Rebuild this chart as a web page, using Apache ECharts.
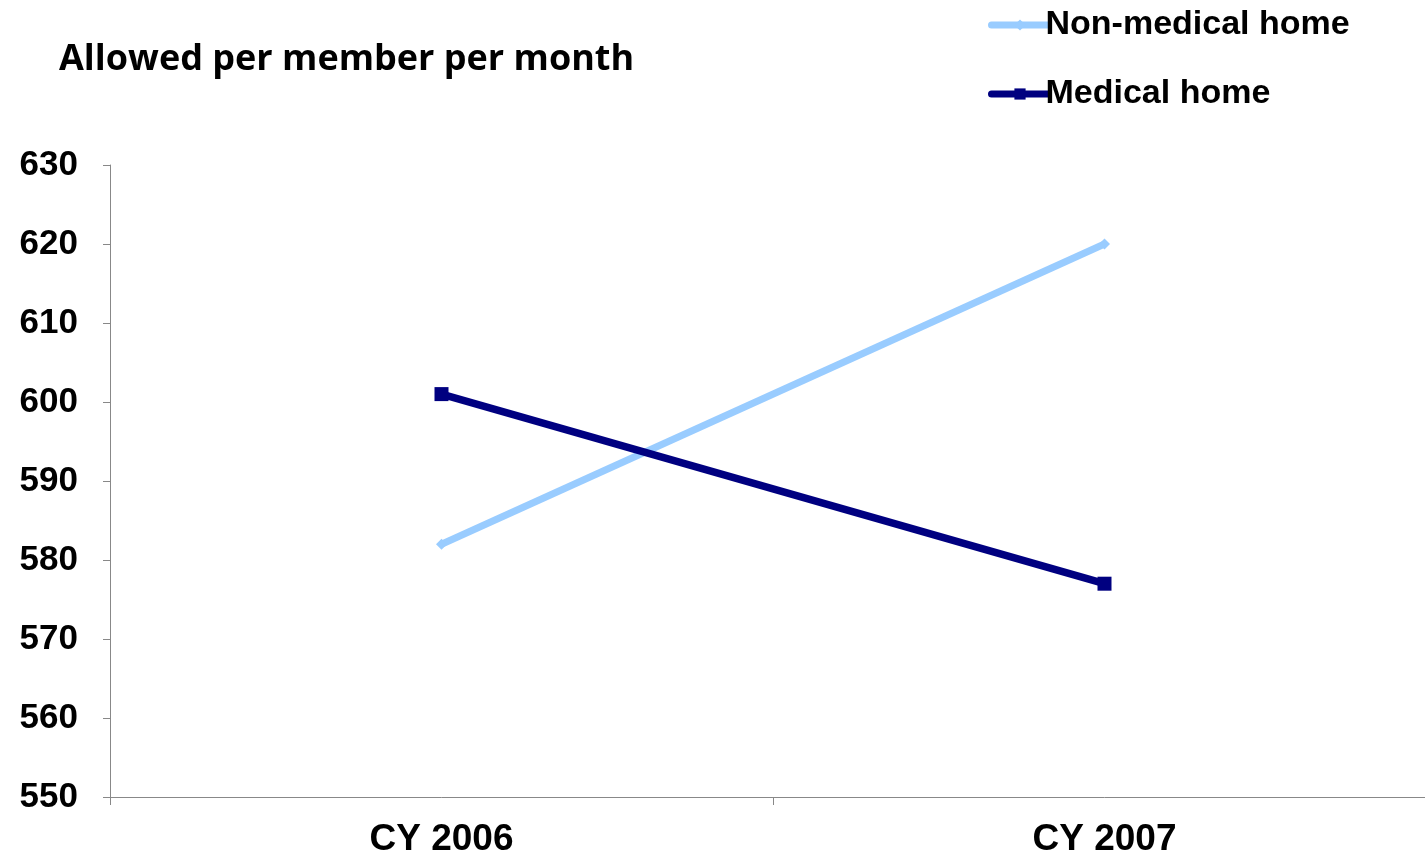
<!DOCTYPE html>
<html>
<head>
<meta charset="utf-8">
<script src="https://cdn.jsdelivr.net/npm/echarts@6/dist/echarts.min.js"></script>
<style>html,body{margin:0;padding:0;background:#fff;overflow:hidden;width:1425px;height:856px;}#c{width:1440px;height:856px;}</style>
</head>
<body>
<div id="c"></div>
<script>
var categories = ['CY 2006', 'CY 2007'];
var nonMedicalHome = [582, 620];
var medicalHome = [601, 577];
var seriesNames = ['Non-medical home', 'Medical home'];
var titleText = 'Allowed per member per month';

var chart = echarts.init(document.getElementById('c'));
chart.setOption({
  backgroundColor: '#fff',
  animation: false,
  title: {
    text: titleText,
    left: 54, top: 37,
    textStyle: { fontFamily: 'Open Sans', fontWeight: 'bold', fontSize: 36, color: '#000' }
  },
  legend: {
    orient: 'vertical',
    left: 988, top: 8,
    padding: 0,
    itemWidth: 57, itemHeight: 14,
    itemGap: 35,
    lineStyle: { width: 7, cap: 'round' },
    textStyle: { fontFamily: 'Liberation Sans', fontWeight: 'bold', fontSize: 34, color: '#000', padding: [0,0,0,-8] },
    data: seriesNames
  },
  grid: { left: 110, top: 165, width: 1326, height: 632, containLabel: false, outerBoundsMode: 'none' },
  xAxis: {
    type: 'category',
    data: categories,
    boundaryGap: true,
    axisLine: { lineStyle: { color: '#888', width: 1 } },
    axisTick: { show: true, length: 8, inside: false, lineStyle: { color: '#888' } },
    axisLabel: { margin: 24, fontFamily: 'Liberation Sans', fontWeight: 'bold', fontSize: 37, color: '#000' },
    splitLine: { show: false }
  },
  yAxis: {
    type: 'value',
    min: 550, max: 630, interval: 10,
    axisLine: { show: true, lineStyle: { color: '#888', width: 1 } },
    axisTick: { show: true, length: 7, lineStyle: { color: '#888' } },
    axisLabel: { margin: 32, fontFamily: 'Liberation Sans', fontWeight: 'bold', fontSize: 35, color: '#000' },
    splitLine: { show: false }
  },
  series: [
    {
      name: seriesNames[0], type: 'line', data: nonMedicalHome,
      color: '#99CCFF',
      lineStyle: { width: 7, color: '#99CCFF' },
      symbol: 'diamond', symbolSize: 11, showAllSymbol: true,
      itemStyle: { color: '#99CCFF' }
    },
    {
      name: seriesNames[1], type: 'line', data: medicalHome,
      color: '#000080',
      lineStyle: { width: 7.5, color: '#000080' },
      symbol: 'rect', symbolSize: 14, showAllSymbol: true,
      itemStyle: { color: '#000080' }
    }
  ]
});
</script>
</body>
</html>
